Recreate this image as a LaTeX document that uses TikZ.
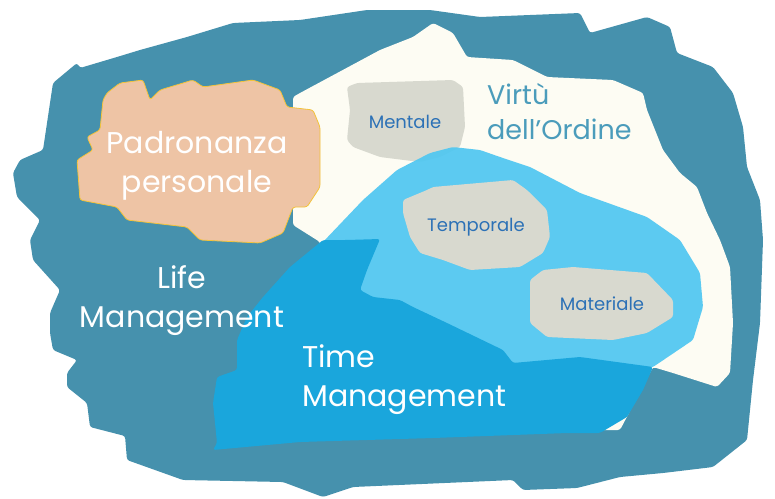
\documentclass[tikz,border=0pt]{standalone}
\usepackage{fontspec}
\setmainfont{Poppins}
\usepackage{xcolor}
\usepackage{tikz}
\definecolor{lifeblue}{HTML}{4691AD}
\definecolor{cream}{HTML}{FDFCF3}
\definecolor{timeblue}{HTML}{1AA6DC}
\definecolor{orderblue}{HTML}{50C7F1}
\definecolor{peach}{HTML}{EEC4A5}
\definecolor{peachline}{HTML}{F3C33A}
\definecolor{stone}{HTML}{D8D9CF}
\definecolor{darklab}{HTML}{2C71B6}
\definecolor{ordertext}{HTML}{4B9CBB}
\tikzset{
  blob/.style={line join=round, rounded corners=2.5pt},
  big/.style={text=white, font=\fontsize{30}{39}\selectfont, inner sep=0pt},
  virt/.style={text=ordertext, font=\fontsize{27}{35}\selectfont, inner sep=0pt},
  small/.style={text=darklab, font=\fontsize{18}{22}\selectfont, inner sep=0pt},
}

\begin{document}
\begin{tikzpicture}[x=1pt,y=-1pt]
  \useasboundingbox[fill=white] (0,0) rectangle (775,498);
  % life management
  \fill[blob,lifeblue] (77,63)--(80,68)--(117,57)--(140,50)--(187,37)--(233,23)--(300,20)--(367,10)
    --(430,10)--(480,17)--(580,13)--(590,33)--(647,17)--(670,27)--(677,53)--(713,67)--(733,93)
    --(743,127)--(747,167)--(760,200)--(763,240)--(760,323)--(753,380)--(747,440)--(713,467)
    --(663,473)--(620,477)--(577,488)--(523,490)--(513,480)--(353,487)--(323,497)--(283,482)
    --(183,480)--(127,460)--(125,436)--(90,427)--(87,403)--(67,387)--(67,373)--(77,360)--(53,350)
    --(50,333)--(50,313)--(60,290)--(33,260)--(30,240)--(40,220)--(17,197)--(13,173)--(20,160)
    --(43,150)--(50,103)--(53,83)--cycle;
  % virtu dell'ordine
  \fill[blob,cream] (293,97)--(300,93)--(380,50)--(413,37)--(433,23)--(453,33)--(467,57)--(513,60)
    --(547,77)--(613,80)--(643,93)--(647,110)--(663,150)--(680,173)--(697,187)--(707,213)--(720,240)
    --(730,267)--(733,323)--(730,373)--(717,387)--(673,373)--(653,367)--(620,430)--(320,430)
    --(320,242)--(293,225)--cycle;
  % mentale
  \fill[blob,stone] (347,87)--(357,83)--(453,80)--(463,87)--(465,127)--(460,147)--(440,157)
    --(420,162)--(380,157)--(353,147)--(347,140)--(350,110)--cycle;
  % ordine (light)
  \fill[blob,orderblue,opacity=0.93] (323,242)--(363,200)--(397,170)--(430,153)--(453,147)--(480,150)
    --(500,157)--(530,167)--(580,193)--(647,217)--(680,240)--(700,273)--(703,307)--(693,340)
    --(653,367)--(600,380)--(380,380)--(340,300)--cycle;
  % time management
  \fill[blob,timeblue] (213,450)--(217,443)--(213,403)--(217,377)--(237,370)--(237,340)--(247,317)
    --(263,297)--(290,267)--(323,240)--(347,240)--(380,239)--(367,270)--(360,290)--(373,297)
    --(400,300)--(413,307)--(447,323)--(503,350)--(513,363)--(580,357)--(653,367)--(643,390)
    --(627,417)--(600,433)--(567,433)--(433,438)--(300,442)--cycle;
  % temporale, materiale
  \fill[blob,stone] (403,200)--(427,190)--(433,187)--(513,180)--(527,190)--(547,210)--(550,237)
    --(543,253)--(520,267)--(470,270)--(443,260)--(420,253)--(410,237)--(403,213)--cycle;
  \fill[blob,stone] (530,280)--(543,270)--(573,267)--(647,273)--(673,300)--(673,317)--(647,333)
    --(613,340)--(547,337)--(530,323)--cycle;
  % padronanza personale
  \filldraw[blob,fill=peach,draw=peachline,line width=0.8pt] (107,93)--(120,83)--(143,80)--(150,100)
    --(160,90)--(193,80)--(203,87)--(253,80)--(280,90)--(287,107)--(313,110)--(320,127)--(320,187)
    --(307,207)--(293,207)--(283,233)--(260,243)--(200,240)--(187,227)--(127,220)--(117,207)
    --(80,200)--(77,160)--(93,150)--(87,137)--(100,130)--(103,100)--cycle;

  \node[big,align=center] (padr) at (197,166) {Padronanza\\personale};
  \node[big,align=center] (life) at (182,301) {Life\\Management};
  \node[big,align=left,anchor=north west] (time) at (302,344) {Time\\Management};
  \node[virt,align=left,anchor=north west] (virtu) at (487,83) {Virtù\\dell'Ordine};
  \node[small] (ment) at (405,122) {Mentale};
  \node[small] (temp) at (476,227) {Temporale};
  \node[small] (mate) at (602,304) {Materiale};
\end{tikzpicture}
\end{document}
